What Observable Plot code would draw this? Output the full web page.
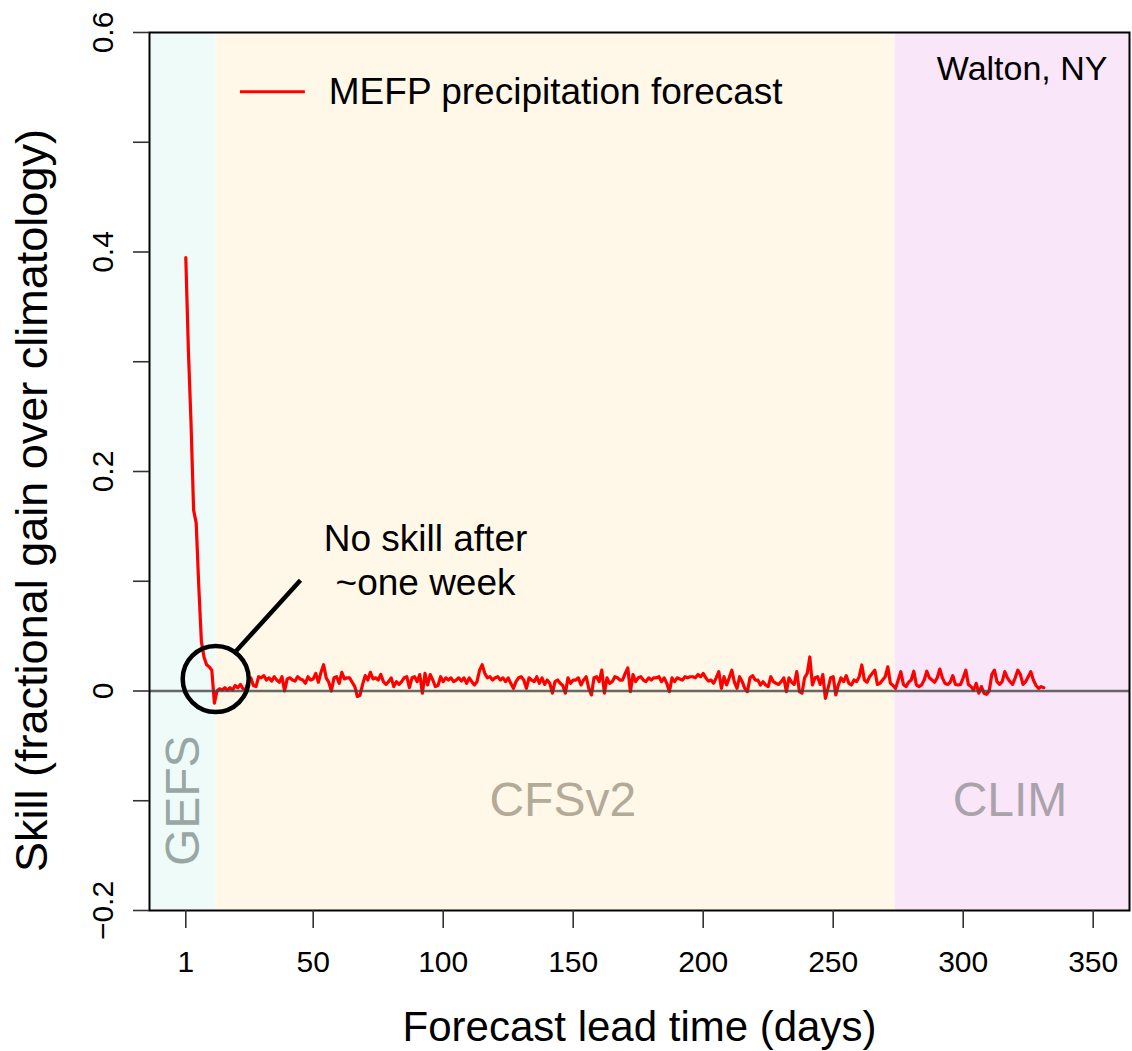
<!DOCTYPE html>
<html>
<head>
<meta charset="utf-8">
<script src="https://cdn.jsdelivr.net/npm/d3@7"></script>
<script src="https://cdn.jsdelivr.net/npm/@observablehq/plot@0.6"></script>
<style>
  html, body { margin: 0; padding: 0; background: #ffffff; }
  svg { display: block; }
</style>
</head>
<body>
<div id="chart"></div>
<script>
// ---- data ----
const skill = [
  0.395,0.31,0.245,0.165,0.153,0.095,0.045,0.031,0.024,0.022,
  0.019,-0.011,0.000,0.002,0.001,0.003,0.001,0.003,0.001,0.005,
  0.003,0.006,0.002,0.001,0.009,0.012,0.005,0.004,0.013,0.012,
  0.014,0.010,0.012,0.009,0.013,0.010,0.008,0.013,0.000,0.011,
  0.012,0.010,0.009,0.013,0.011,0.010,0.007,0.013,0.010,0.011,
  0.016,0.008,0.017,0.024,0.012,0.008,0.000,0.012,0.013,0.007,
  0.017,0.011,0.012,0.012,0.008,0.004,-0.005,-0.004,0.006,0.014,
  0.010,0.017,0.011,0.012,0.010,0.015,0.0085,0.006,0.0085,0.012,
  0.004,0.0085,0.006,0.0085,0.012,0.013,0.003,0.012,0.013,0.0085,
  0.015,-0.002,0.016,0.0055,0.015,0.010,0.004,0.005,0.013,0.0085,
  0.012,0.010,0.012,0.0085,0.010,0.012,0.009,0.012,0.007,0.012,
  0.0085,0.0055,0.0085,0.019,0.024,0.016,0.012,0.013,0.010,0.012,
  0.013,0.010,0.012,0.0085,0.012,0.007,0.0024,0.0085,0.012,0.013,
  0.010,0.0024,0.012,0.010,0.0085,0.013,0.007,0.012,0.006,0.010,
  0.007,-0.002,0.0085,0.010,0.007,0.005,-0.002,0.012,0.007,0.010,
  0.010,0.012,0.0055,0.010,0.013,0.0024,-0.0036,0.012,0.013,0.0085,
  0.019,-0.002,0.012,0.007,0.0085,0.013,0.012,0.010,0.010,0.016,
  0.021,-0.0006,0.015,0.0085,0.012,0.013,0.010,0.0085,0.012,0.010,
  0.012,0.012,0.013,0.0085,0.012,0.007,-0.0006,0.012,0.0085,0.012,
  0.011,0.010,0.013,0.012,0.013,0.013,0.012,0.015,0.013,0.016,
  0.012,0.009,0.010,0.007,0.012,0.0176,0.0024,0.013,0.0055,0.012,
  0.019,0.008,0.0024,0.013,0.0085,0.0024,-0.0006,0.012,0.014,0.010,
  0.010,0.0055,0.0085,0.0055,0.004,0.013,0.0085,0.007,0.006,0.0085,
  0.012,-0.0006,0.012,0.008,0.006,0.0176,-0.0006,-0.002,0.012,0.016,
  0.031,0.0055,0.012,0.013,0.006,0.015,-0.0067,0.0024,0.012,0.013,
  -0.0036,0.0055,0.012,0.0085,0.014,0.007,0.0055,0.010,0.0085,0.013,
  0.0237,0.010,0.008,0.013,0.016,0.019,0.006,0.007,0.010,0.013,
  0.022,0.007,0.005,0.0024,0.010,0.0176,0.006,0.004,0.008,0.010,
  0.018,0.0055,0.004,0.0055,0.010,0.018,0.012,0.010,0.008,0.012,
  0.020,0.012,0.007,0.006,0.008,0.014,0.006,0.0055,0.006,0.012,
  0.019,0.006,0.004,0.0009,0.007,-0.002,0.004,-0.002,-0.003,0.000,
  0.015,0.019,0.0085,0.006,0.0085,0.0176,0.012,0.0085,0.006,0.012,
  0.019,0.015,0.006,0.0085,0.013,0.0176,0.010,0.005,0.0024,0.004,
  0.003
];
const firstLeadDay = 1;             // skill[i] is the value at lead day firstLeadDay + i

const bandNames  = ["GEFS", "CFSv2", "CLIM"];
const bandStart  = [-12.96, 12.65, 273.8];   // days
const bandEnd    = [12.65, 273.8, 363.96];   // days
const bandLabelX = [0, 146, 318];            // days
const bandLabelY = -0.1;

const xTicks = [1, 50, 100, 150, 200, 250, 300, 350];
const yTicks = [-0.2, -0.1, 0, 0.1, 0.2, 0.3, 0.4, 0.5, 0.6];
const yTickLabels = ["\u22120.2", "", "0", "", "0.2", "", "0.4", "", "0.6"];

const seriesName = "MEFP precipitation forecast";
const stationName = "Walton, NY";
const noteText = "No skill after\n~one week";
const xTitle = "Forecast lead time (days)";
const yTitle = "Skill (fractional gain over climatology)";

// ---- styles / annotation anchors (data coordinates) ----
const bandFills = ["#eefbf8", "#fff8e8", "#f9e6f9"];
const bandTextFills = ["#9aa6a3", "#b3aa98", "#aaa3ab"];
const legendLine = {x1: 22, x2: 47, y: 0.546};
const legendTextX = 56;
const stationPos = {x: 355.5, y: 0.5567};
const notePos = {x: 93.2, y: 0.0875};
const circlePos = {x: 12.5, y: 0.0109};
const pointer = {x1: 20.1, y1: 0.0358, x2: 45.1, y2: 0.101};

const rows = skill.map((v, i) => ({lead: firstLeadDay + i, skill: v}));
const bands = bandNames.map((n, i) => ({name: n, start: bandStart[i], end: bandEnd[i], labelX: bandLabelX[i], fill: bandFills[i], textFill: bandTextFills[i]}));

const chart = Plot.plot({
  width: 1132,
  height: 1051,
  marginLeft: 149,
  marginRight: 3,
  marginTop: 32,
  marginBottom: 141,
  style: {fontFamily: "'Liberation Sans', Arial, Helvetica, sans-serif", fontSize: "30px", color: "#000", background: "#fff", overflow: "visible"},
  x: {domain: [-12.96, 363.96]},
  y: {domain: [-0.2, 0.6]},
  color: {type: "identity"},
  marks: [
    Plot.rect(bands, {x1: "start", x2: "end", fill: "fill"}),
    Plot.text(bands, {x: "labelX", y: bandLabelY, text: "name", rotate: d => d.name === "GEFS" ? -90 : 0, fontSize: 48, fill: "textFill", lineAnchor: "middle"}),
    Plot.line(rows, {x: "lead", y: "skill", stroke: "#ff0000", strokeWidth: 3.2}),
    Plot.ruleY([0], {stroke: "#444", strokeWidth: 2.5, strokeOpacity: 0.8}),
    Plot.dot([circlePos], {x: "x", y: "y", r: 33, stroke: "#000", strokeWidth: 4.5, fill: "none"}),
    Plot.link([pointer], {x1: "x1", y1: "y1", x2: "x2", y2: "y2", stroke: "#000", strokeWidth: 4.5}),
    Plot.text([noteText], {x: notePos.x, y: notePos.y, lineAnchor: "bottom", lineHeight: 1.18, fontSize: 37, fill: "#000"}),
    Plot.ruleY([legendLine.y], {x1: legendLine.x1, x2: legendLine.x2, stroke: "#ff0000", strokeWidth: 3}),
    Plot.text([seriesName], {x: legendTextX, y: legendLine.y, textAnchor: "start", lineAnchor: "middle", fontSize: 37, fill: "#000"}),
    Plot.text([stationName], {x: stationPos.x, y: stationPos.y, textAnchor: "end", lineAnchor: "bottom", fontSize: 34, fill: "#000"}),
    Plot.frame({stroke: "#000", strokeWidth: 2}),
    Plot.axisX({ticks: xTicks, tickSize: 18, tickPadding: 22, tickFormat: d => String(d), label: null, stroke: "#333", strokeWidth: 1.6, fontSize: 30}),
    Plot.axisY({ticks: yTicks, tickSize: 16, tickPadding: 21, tickRotate: -90, tickFormat: d => yTickLabels[yTicks.indexOf(d)], label: null, stroke: "#333", strokeWidth: 1.6, fontSize: 30}),
    Plot.text([xTitle], {frameAnchor: "bottom", dy: 130, textAnchor: "middle", lineAnchor: "bottom", fontSize: 42, fill: "#000"}),
    Plot.text([yTitle], {frameAnchor: "left", dx: -117, dy: 29, rotate: -90, textAnchor: "middle", lineAnchor: "middle", fontSize: 45, fill: "#000"})
  ]
});
document.getElementById("chart").appendChild(chart);
</script>
</body>
</html>
